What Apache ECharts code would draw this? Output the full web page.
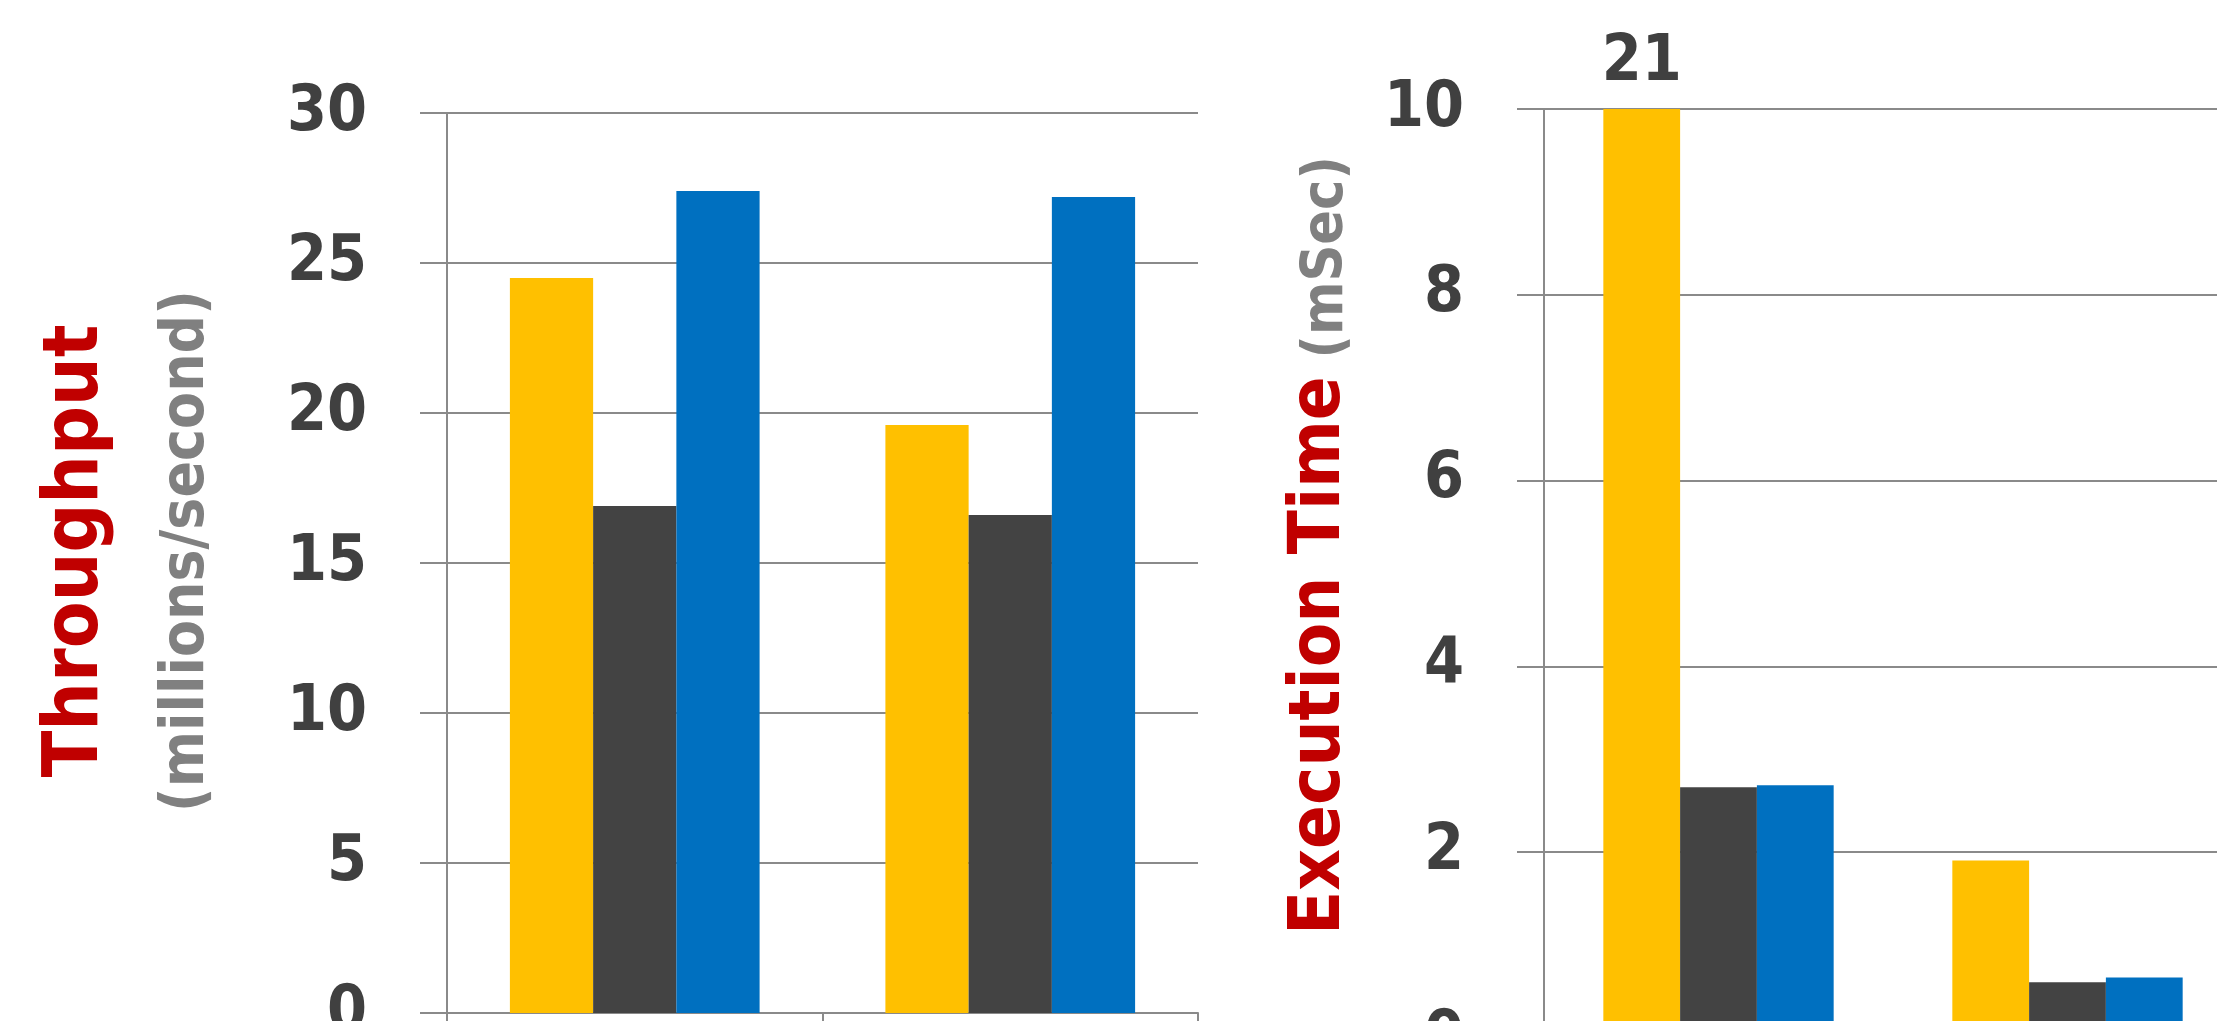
<!DOCTYPE html>
<html>
<head>
<meta charset="utf-8">
<script src="https://cdn.jsdelivr.net/npm/echarts@6/dist/echarts.min.js"></script>
<style>
  html, body { margin: 0; padding: 0; overflow: hidden; background: #fff; }
  #chart { width: 2260px; height: 1070px; }
</style>
</head>
<body>
<div id="chart"></div>
<script>
// categories (their labels sit below the visible area)
var categories = ["Case 1", "Case 2"];

// left panel: throughput (millions/second)
var throughputYellow = [24.5, 19.6];
var throughputDark = [16.9, 16.6];
var throughputBlue = [27.4, 27.2];

// right panel: execution time (mSec), axis clipped at 10
var execYellow = [21, 1.91];
var execDark = [2.7, 0.6];
var execBlue = [2.72, 0.65];

var throughputTicks = { min: 0, max: 30, interval: 5 };
var execTicks = { min: 0, max: 10, interval: 2 };

var FONT = '"DejaVu Sans Condensed", "DejaVu Sans", sans-serif';
var GRID_COLOR = "#8a8a8a";
var COLORS = ["#FFC000", "#434343", "#0070C0"];

function valueAxis(gridIndex, ticks, name, gap, pad, rich) {
  return {
    gridIndex: gridIndex,
    type: "value",
    min: ticks.min,
    max: ticks.max,
    interval: ticks.interval,
    axisLine: { show: true, lineStyle: { color: GRID_COLOR, width: 2 } },
    axisTick: { show: true, length: 27, lineStyle: { color: GRID_COLOR, width: 2 } },
    splitLine: { show: true, lineStyle: { color: GRID_COLOR, width: 2 } },
    axisLabel: { margin: 80, color: "#404040", fontSize: 64, fontWeight: "bold", fontFamily: FONT },
    name: name,
    nameLocation: "middle",
    nameRotate: 90,
    nameGap: gap,
    nameTextStyle: { padding: [0, 0, 0, pad], rich: rich }
  };
}

function catAxis(gridIndex) {
  return {
    gridIndex: gridIndex,
    type: "category",
    data: categories,
    axisLine: { show: true, lineStyle: { color: GRID_COLOR, width: 2 } },
    axisTick: { show: true, length: 12, lineStyle: { color: GRID_COLOR, width: 2 } },
    axisLabel: { show: false }
  };
}

function bars(idx, values, color, gap, cap) {
  return {
    type: "bar",
    xAxisIndex: idx,
    yAxisIndex: idx,
    barGap: "0%",
    barCategoryGap: gap,
    itemStyle: { color: color },
    data: values.map(function (v) {
      var clipped = cap != null && v > cap;
      return {
        value: clipped ? cap : v,
        raw: v,
        label: {
          show: clipped,
          position: "top",
          distance: 14,
          formatter: function (p) { return p.data.raw; },
          color: "#404040",
          fontSize: 64,
          fontWeight: "bold",
          fontFamily: FONT
        }
      };
    })
  };
}

var titleRed = { color: "#C00000", fontWeight: "bold", fontFamily: FONT, align: "center" };
var titleGray = { color: "#808080", fontWeight: "bold", fontFamily: FONT, align: "center" };

var option = {
  animation: false,
  backgroundColor: "#fff",
  grid: [
    { left: 447, top: 113, width: 751, height: 900 },
    { left: 1544, top: 109, width: 698, height: 934 }
  ],
  xAxis: [catAxis(0), catAxis(1)],
  yAxis: [
    valueAxis(0, throughputTicks, "{a|Throughput}\n{b|(millions/second)}", 210, 24, {
      a: Object.assign({ fontSize: 76, lineHeight: 120 }, titleRed),
      b: Object.assign({ fontSize: 60, lineHeight: 100 }, titleGray)
    }),
    valueAxis(1, execTicks, "{a|Execution Time}{b| (mSec)}", 188, 56, {
      a: Object.assign({ fontSize: 72, lineHeight: 100, verticalAlign: "bottom" }, titleRed),
      b: Object.assign({ fontSize: 57, lineHeight: 100, verticalAlign: "bottom" }, titleGray)
    })
  ],
  series: [
    bars(0, throughputYellow, COLORS[0], "33.5%"),
    bars(0, throughputDark, COLORS[1], "33.5%"),
    bars(0, throughputBlue, COLORS[2], "33.5%"),
    bars(1, execYellow, COLORS[0], "34%", execTicks.max),
    bars(1, execDark, COLORS[1], "34%", execTicks.max),
    bars(1, execBlue, COLORS[2], "34%", execTicks.max)
  ]
};

var myChart = echarts.init(document.getElementById("chart"));
myChart.setOption(option);
</script>
</body>
</html>
